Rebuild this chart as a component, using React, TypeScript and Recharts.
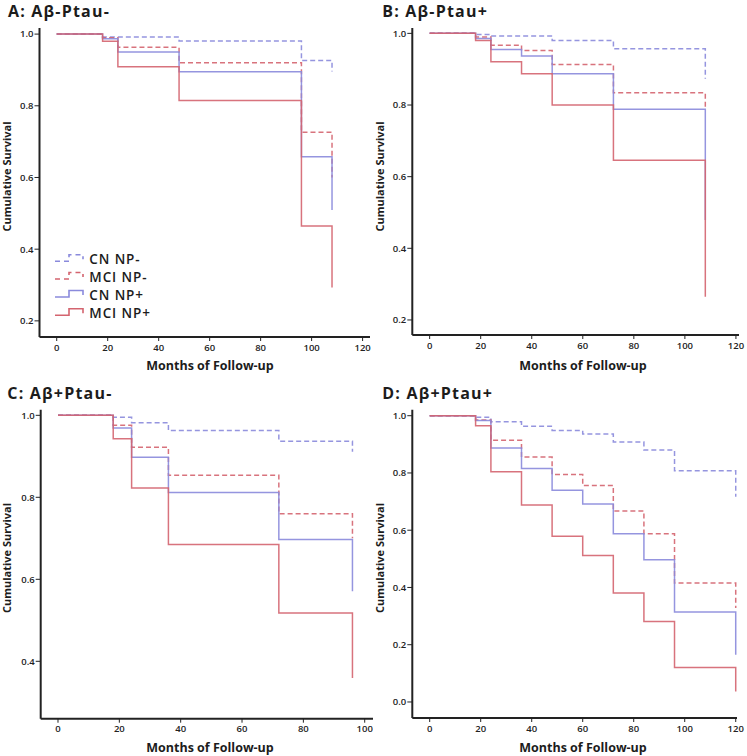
import { LineChart, Line, XAxis, YAxis } from "recharts";

const seriesNames = ["CN NP-", "MCI NP-", "CN NP+", "MCI NP+"];

// A: Aβ-Ptau-
const monthsA = [0, 18, 24, 48, 96, 108];
const cnNegA = [1, 0.992, 0.992, 0.981, 0.926, 0.896];
const mciNegA = [1, 0.99, 0.963, 0.92, 0.726, 0.6];
const cnPosA = [1, 0.987, 0.95, 0.895, 0.658, 0.509];
const mciPosA = [1, 0.98, 0.909, 0.815, 0.465, 0.293];

// B: Aβ-Ptau+
const monthsB = [0, 18, 24, 36, 48, 72, 108];
const cnNegB = [1, 0.997, 0.993, 0.993, 0.98, 0.957, 0.873];
const mciNegB = [1, 0.99, 0.967, 0.952, 0.913, 0.834, 0.79];
const cnPosB = [1, 0.986, 0.955, 0.937, 0.887, 0.788, 0.479];
const mciPosB = [1, 0.98, 0.921, 0.887, 0.8, 0.646, 0.265];

// C: Aβ+Ptau-
const monthsC = [0, 18, 24, 36, 72, 96];
const cnNegC = [1, 0.995, 0.982, 0.963, 0.937, 0.911];
const mciNegC = [1, 0.976, 0.922, 0.854, 0.76, 0.7];
const cnPosC = [1, 0.969, 0.898, 0.812, 0.697, 0.571];
const mciPosC = [1, 0.943, 0.823, 0.685, 0.518, 0.359];

// D: Aβ+Ptau+
const monthsD = [0, 18, 24, 36, 48, 60, 72, 84, 96, 120];
const cnNegD = [1, 0.995, 0.979, 0.963, 0.948, 0.936, 0.908, 0.88, 0.808, 0.717];
const mciNegD = [1, 0.985, 0.914, 0.856, 0.795, 0.756, 0.667, 0.588, 0.416, 0.328];
const cnPosD = [1, 0.983, 0.887, 0.816, 0.74, 0.692, 0.588, 0.497, 0.314, 0.165];
const mciPosD = [1, 0.965, 0.804, 0.688, 0.579, 0.512, 0.381, 0.281, 0.12, 0.037];

const xTicks = [0, 20, 40, 60, 80, 100, 120];
const xTicksC = [0, 20, 40, 60, 80, 100];
const yTicksAB = [0.2, 0.4, 0.6, 0.8, 1.0];
const yTicksC = [0.4, 0.6, 0.8, 1.0];
const yTicksD = [0, 0.2, 0.4, 0.6, 0.8, 1.0];

const BLUE = "#8a8adc";
const RED = "#d4646f";
const keys = ["cnNeg", "mciNeg", "cnPos", "mciPos"];
const colors = [BLUE, RED, BLUE, RED];
const dashes = ["5 3", "5 3", undefined, undefined];

const W = 373;
const H = 378;
const font = "'Open Sans', 'DejaVu Sans', sans-serif";
const ink = "#1c1c1c";

function buildRows(months, cn, mci, cnp, mcip) {
  return months.map((m, i) => ({ m, cnNeg: cn[i], mciNeg: mci[i], cnPos: cnp[i], mciPos: mcip[i] }));
}

function Legend() {
  const base = [264.3, 282, 300, 318.3];
  return (
    <g>
      {seriesNames.map((name, i) => {
        const b = base[i];
        return (
          <g key={name}>
            <path
              d={`M55,${b - 3} L69,${b - 3} L69,${b - 9.5} L83,${b - 9.5} L83,${b - 5}`}
              fill="none"
              stroke={colors[i]}
              strokeWidth={1.6}
              strokeDasharray={dashes[i] ? "5 4" : undefined}
            />
            <text x={89.3} y={b} fontSize={13.5} fontWeight={600} fill={ink} letterSpacing={0.9} fontFamily={font}>
              {name}
            </text>
          </g>
        );
      })}
    </g>
  );
}

function Panel({ left, top, title, titleX, titleY, labelY, yLabelY, rows, frame, xDomain, yDomain, ticksX, yTicks, showLegend }) {
  const [pl, pt, pr, pb] = frame;
  const margin = { top: pt, left: pl - 30, right: W - pr, bottom: H - pb - 30 };
  return (
    <div style={{ position: "absolute", left, top, width: W, height: H, overflow: "hidden" }}>
      <LineChart width={W} height={H} data={rows} margin={margin}>
        <XAxis
          dataKey="m"
          type="number"
          domain={xDomain}
          allowDataOverflow
          ticks={ticksX}
          height={30}
          axisLine={{ stroke: "#222", strokeWidth: 2 }}
          tickLine={{ stroke: "#222" }}
          tickSize={4}
          tickMargin={3}
          tick={{ fill: "#222", fontSize: 9.5, fontWeight: 600, fontFamily: font }}
        />
        <YAxis
          type="number"
          domain={yDomain}
          allowDataOverflow
          ticks={yTicks}
          width={30}
          axisLine={{ stroke: "#222", strokeWidth: 2 }}
          tickLine={{ stroke: "#222" }}
          tickSize={5}
          tickMargin={1}
          tickFormatter={(v) => v.toFixed(1)}
          tick={{ fill: "#222", fontSize: 9.5, fontWeight: 600, fontFamily: font }}
        />
        {keys.map((k, i) => (
          <Line
            key={k}
            dataKey={k}
            type="stepAfter"
            stroke={colors[i]}
            strokeWidth={1.5}
            strokeOpacity={0.9}
            strokeDasharray={dashes[i]}
            dot={false}
            activeDot={false}
            isAnimationActive={false}
          />
        ))}
      </LineChart>
      <svg width={W} height={H} style={{ position: "absolute", left: 0, top: 0, pointerEvents: "none" }}>
        <text x={titleX} y={titleY} fontSize={16} fontWeight={700} fill={ink} letterSpacing={1.2} fontFamily={font}>
          {title}
        </text>
        <text x={210} y={labelY} textAnchor="middle" fontSize={12.5} fontWeight={700} fill={ink} fontFamily={font}>
          Months of Follow-up
        </text>
        <text
          x={11}
          y={yLabelY}
          textAnchor="middle"
          transform={`rotate(-90 11 ${yLabelY})`}
          fontSize={11}
          fontWeight={700}
          fill={ink}
          fontFamily={font}
        >
          Cumulative Survival
        </text>
        {showLegend && <Legend />}
      </svg>
    </div>
  );
}

export default function App() {
  return (
    <div style={{ position: "absolute", left: 0, top: 0, width: 747, height: 756, background: "#fff", overflow: "hidden" }}>
      <Panel
        left={0}
        top={0}
        title="A: Aβ-Ptau-"
        titleX={8}
        titleY={16.5}
        labelY={369.5}
        yLabelY={176.5}
        rows={buildRows(monthsA, cnNegA, mciNegA, cnPosA, mciPosA)}
        frame={[39.5, 28, 370, 337]}
        xDomain={[-6.75, 122.9]}
        yDomain={[0.155, 1.017]}
        ticksX={xTicks}
        yTicks={yTicksAB}
        showLegend
      />
      <Panel
        left={373}
        top={0}
        title="B: Aβ-Ptau+"
        titleX={9.3}
        titleY={16.5}
        labelY={369.5}
        yLabelY={176.5}
        rows={buildRows(monthsB, cnNegB, mciNegB, cnPosB, mciPosB)}
        frame={[39.3, 28, 366, 335]}
        xDomain={[-6.8, 121.2]}
        yDomain={[0.158, 1.015]}
        ticksX={xTicks}
        yTicks={yTicksAB}
      />
      <Panel
        left={0}
        top={378}
        title="C: Aβ+Ptau-"
        titleX={7.3}
        titleY={20.7}
        labelY={373.5}
        yLabelY={180}
        rows={buildRows(monthsC, cnNegC, mciNegC, cnPosC, mciPosC)}
        frame={[40.7, 31.7, 373, 340.7]}
        xDomain={[-5.64, 102.7]}
        yDomain={[0.26, 1.0137]}
        ticksX={xTicksC}
        yTicks={yTicksC}
      />
      <Panel
        left={373}
        top={378}
        title="D: Aβ+Ptau+"
        titleX={9.3}
        titleY={20.7}
        labelY={373.5}
        yLabelY={180}
        rows={buildRows(monthsD, cnNegD, mciNegD, cnPosD, mciPosD)}
        frame={[39.3, 31.7, 364, 340]}
        xDomain={[-6.82, 120.5]}
        yDomain={[-0.056, 1.021]}
        ticksX={xTicks}
        yTicks={yTicksD}
      />
    </div>
  );
}
